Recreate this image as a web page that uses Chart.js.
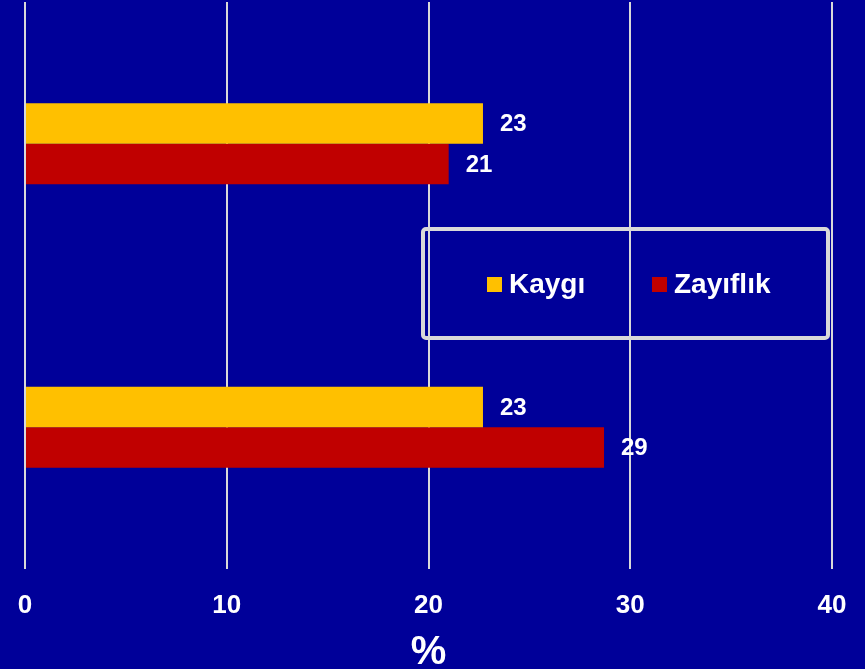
<!DOCTYPE html>
<html>
<head>
<meta charset="utf-8">
<script src="https://cdn.jsdelivr.net/npm/chart.js@4.4.1/dist/chart.umd.min.js"></script>
<style>
  html, body { margin: 0; padding: 0; background: #000099; }
  #wrap { width: 865px; height: 669px; }
</style>
</head>
<body>
<div id="wrap"><canvas id="chart"></canvas></div>
<script>
  // ─── Data ─────────────────────────────────────────────────────────────────
  const categories = ['1', '2'];
  const kaygiValues = [22.7, 22.7];
  const zayiflikValues = [21.0, 28.7];
  const seriesNames = ['Kaygı', 'Zayıflık'];
  const xTicks = [0, 10, 20, 30, 40];

  const FONT = 'Arial, "Liberation Sans", sans-serif';

  // Value labels to the right of each bar
  const valueLabels = {
    id: 'valueLabels',
    afterDatasetsDraw(chart) {
      const ctx = chart.ctx;
      ctx.save();
      ctx.fillStyle = '#ffffff';
      ctx.font = 'bold 24px ' + FONT;
      ctx.textBaseline = 'middle';
      ctx.textAlign = 'left';
      chart.data.datasets.forEach(function (ds, i) {
        chart.getDatasetMeta(i).data.forEach(function (bar, j) {
          ctx.fillText(String(Math.round(ds.data[j])), bar.x + 17, bar.y + 1);
        });
      });
      ctx.restore();
    }
  };

  // Boxed legend sitting inside the plot area
  const boxLegend = {
    id: 'boxLegend',
    afterDraw(chart) {
      const ctx = chart.ctx;
      ctx.save();
      ctx.strokeStyle = '#d9d9d9';
      ctx.lineWidth = 4;
      ctx.beginPath();
      ctx.roundRect(423, 229, 405, 109, 3);
      ctx.stroke();

      const items = [
        { x: 487, color: chart.data.datasets[0].backgroundColor, text: seriesNames[0] },
        { x: 652, color: chart.data.datasets[1].backgroundColor, text: seriesNames[1] }
      ];
      ctx.font = 'bold 28px ' + FONT;
      ctx.textBaseline = 'middle';
      ctx.textAlign = 'left';
      items.forEach(function (it) {
        ctx.fillStyle = it.color;
        ctx.fillRect(it.x, 277, 15, 15);
        ctx.fillStyle = '#ffffff';
        ctx.fillText(it.text, it.x + 22, 285);
      });
      ctx.restore();
    }
  };

  new Chart(document.getElementById('chart'), {
    type: 'bar',
    data: {
      labels: categories,
      datasets: [
        {
          label: seriesNames[0],
          data: kaygiValues,
          backgroundColor: '#ffc000',
          categoryPercentage: 0.286,
          barPercentage: 1
        },
        {
          label: seriesNames[1],
          data: zayiflikValues,
          backgroundColor: '#c00000',
          categoryPercentage: 0.286,
          barPercentage: 1
        }
      ]
    },
    options: {
      indexAxis: 'y',
      responsive: true,
      maintainAspectRatio: false,
      animation: false,
      layout: { padding: { left: 25, right: 33, top: 2, bottom: 6 } },
      plugins: {
        legend: { display: false },
        tooltip: { enabled: false }
      },
      scales: {
        y: { display: false },
        x: {
          min: xTicks[0],
          max: xTicks[xTicks.length - 1],
          afterBuildTicks: function (axis) {
            axis.ticks = xTicks.map(function (v) { return { value: v }; });
          },
          afterFit: function (axis) {
            // let layout padding alone decide the plot edges
            axis.paddingLeft = 0;
            axis.paddingRight = 0;
          },
          border: { display: false },
          grid: {
            color: '#d9d9d9',
            lineWidth: 2,
            drawTicks: false
          },
          ticks: {
            color: '#ffffff',
            padding: 21,
            font: { family: FONT, size: 26, weight: 'bold' },
            maxRotation: 0
          },
          title: {
            display: true,
            text: '%',
            color: '#ffffff',
            font: { family: FONT, size: 40, weight: 'bold', lineHeight: 0.52 },
            padding: { top: 0, bottom: 0 }
          }
        }
      }
    },
    plugins: [valueLabels, boxLegend]
  });
</script>
</body>
</html>
